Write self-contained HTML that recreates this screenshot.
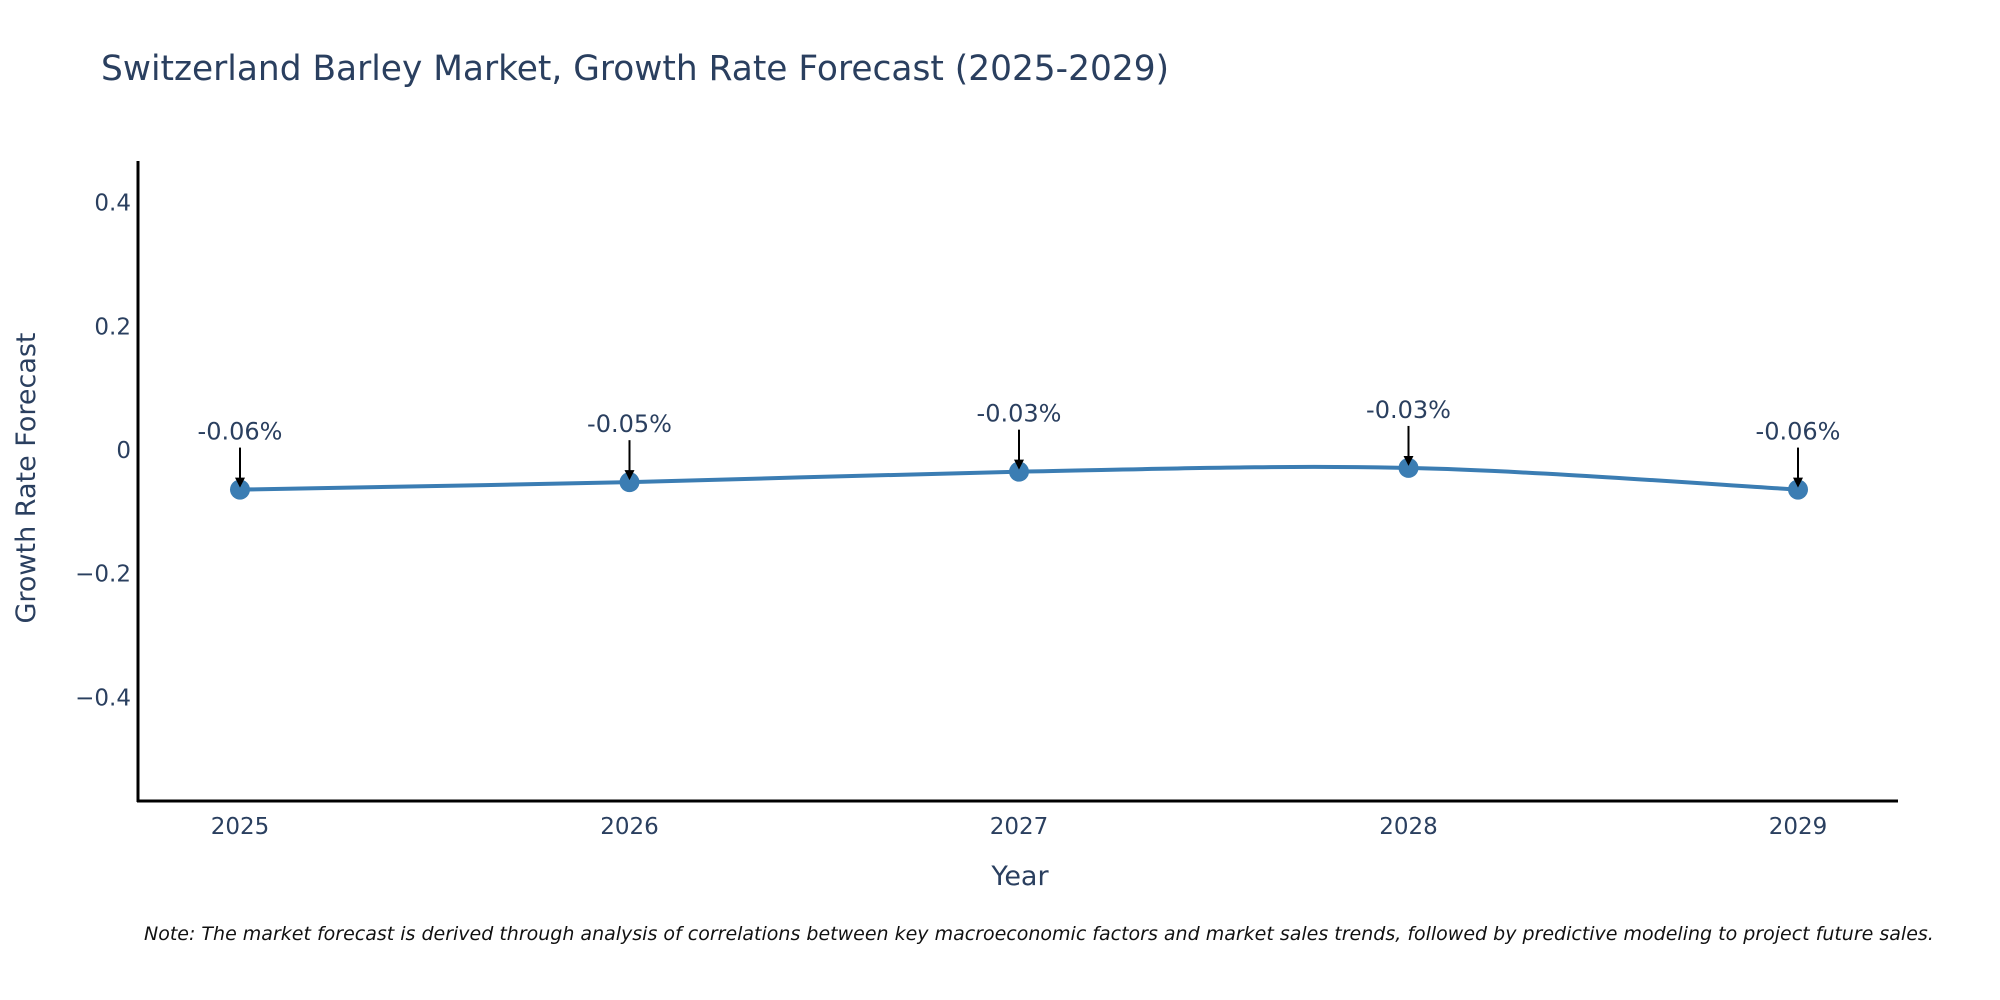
<!DOCTYPE html>
<html><head><meta charset="utf-8"><style>
html,body{margin:0;padding:0;background:#fff}
svg{display:block;font-family:"DejaVu Sans","Liberation Sans",sans-serif}
</style></head><body>
<svg id="chart" width="2000" height="1000" viewBox="0 0 2000 1000">
<rect width="2000" height="1000" fill="#fff"/>
<text x="101" y="80" font-size="35" fill="#2a3f5f" textLength="1068" lengthAdjust="spacingAndGlyphs">Switzerland Barley Market, Growth Rate Forecast (2025-2029)</text>
<g id="yticks"></g>
<g id="xticks"></g>
<line x1="138" y1="161" x2="138" y2="802" stroke="#000" stroke-width="3"/>
<line x1="137" y1="801" x2="1898" y2="801" stroke="#000" stroke-width="3"/>
<g id="series"></g>
<g id="annots"></g>
<text x="1020" y="885" font-size="27" fill="#2a3f5f" text-anchor="middle">Year</text>
<text x="0" y="0" font-size="27" fill="#2a3f5f" text-anchor="middle" transform="translate(35,478) rotate(-90)">Growth Rate Forecast</text>
<text x="144" y="940" font-size="19" font-style="italic" fill="#111">Note: The market forecast is derived through analysis of correlations between key macroeconomic factors and market sales trends, followed by predictive modeling to project future sales.</text>
<defs><marker id="ah" markerWidth="5" markerHeight="5" refX="4" refY="2.5" orient="auto" markerUnits="strokeWidth"><path d="M0,0 L5,2.5 L0,5 Z" fill="#000"/></marker></defs>
</svg>
<script>
const years = [2025, 2026, 2027, 2028, 2029];
const values = [-0.064, -0.052, -0.035, -0.029, -0.064];
const labels = ["-0.06%", "-0.05%", "-0.03%", "-0.03%", "-0.06%"];
const yTickValues = [0.4, 0.2, 0, -0.2, -0.4];
const yTickLabels = ["0.4", "0.2", "0", "\u22120.2", "\u22120.4"];

const NS = "http://www.w3.org/2000/svg";
function xs(yr){ return 240 + (yr - 2025) * 389.5; }
function ys(v){ return 450 - v * 618.5; }
function mk(tag, attrs, parent){ const e = document.createElementNS(NS, tag); for (const k in attrs) e.setAttribute(k, attrs[k]); parent.appendChild(e); return e; }

const yt = document.getElementById('yticks');
yTickValues.forEach((v, i) => {
  const t = mk('text', {x: 131, y: ys(v) + 8, 'font-size': 23, fill: '#2a3f5f', 'text-anchor': 'end'}, yt);
  
  
  t.textContent = yTickLabels[i];
});
const xt = document.getElementById('xticks');
years.forEach(yr => {
  const t = mk('text', {x: xs(yr), y: 834, 'font-size': 23, fill: '#2a3f5f', 'text-anchor': 'middle'}, xt);
  
  
  t.textContent = String(yr);
});

const pts = years.map((yr, i) => [xs(yr), ys(values[i])]);
let d = 'M' + pts[0][0] + ',' + pts[0][1];
for (let i = 0; i < pts.length - 1; i++) {
  const p0 = pts[Math.max(0, i - 1)], p1 = pts[i], p2 = pts[i + 1], p3 = pts[Math.min(pts.length - 1, i + 2)];
  const s = 1 / 3;
  const c1 = [p1[0] + (p2[0] - p0[0]) * s / 2, p1[1] + (p2[1] - p0[1]) * s / 2];
  const c2 = [p2[0] - (p3[0] - p1[0]) * s / 2, p2[1] - (p3[1] - p1[1]) * s / 2];
  d += ' C' + c1.join(',') + ' ' + c2.join(',') + ' ' + p2.join(',');
}
const sg = document.getElementById('series');
const line = mk('path', {d: d, fill: 'none', stroke: '#3b7db3', 'stroke-width': 4}, sg);


pts.forEach(p => {
  const c = mk('circle', {cx: p[0], cy: p[1], r: 10, fill: '#3b7db3'}, sg);
  
  
});

const ag = document.getElementById('annots');
pts.forEach((p, i) => {
  const a = mk('line', {x1: p[0], y1: p[1] - 42, x2: p[0], y2: p[1] - 4, stroke: '#000', 'stroke-width': 2, 'marker-end': 'url(#ah)'}, ag);
  
  
  const t = mk('text', {x: p[0], y: p[1] - 50, 'font-size': 24, fill: '#2a3f5f', 'text-anchor': 'middle'}, ag);
  
  
  t.textContent = labels[i];
});
</script>
</body></html>
